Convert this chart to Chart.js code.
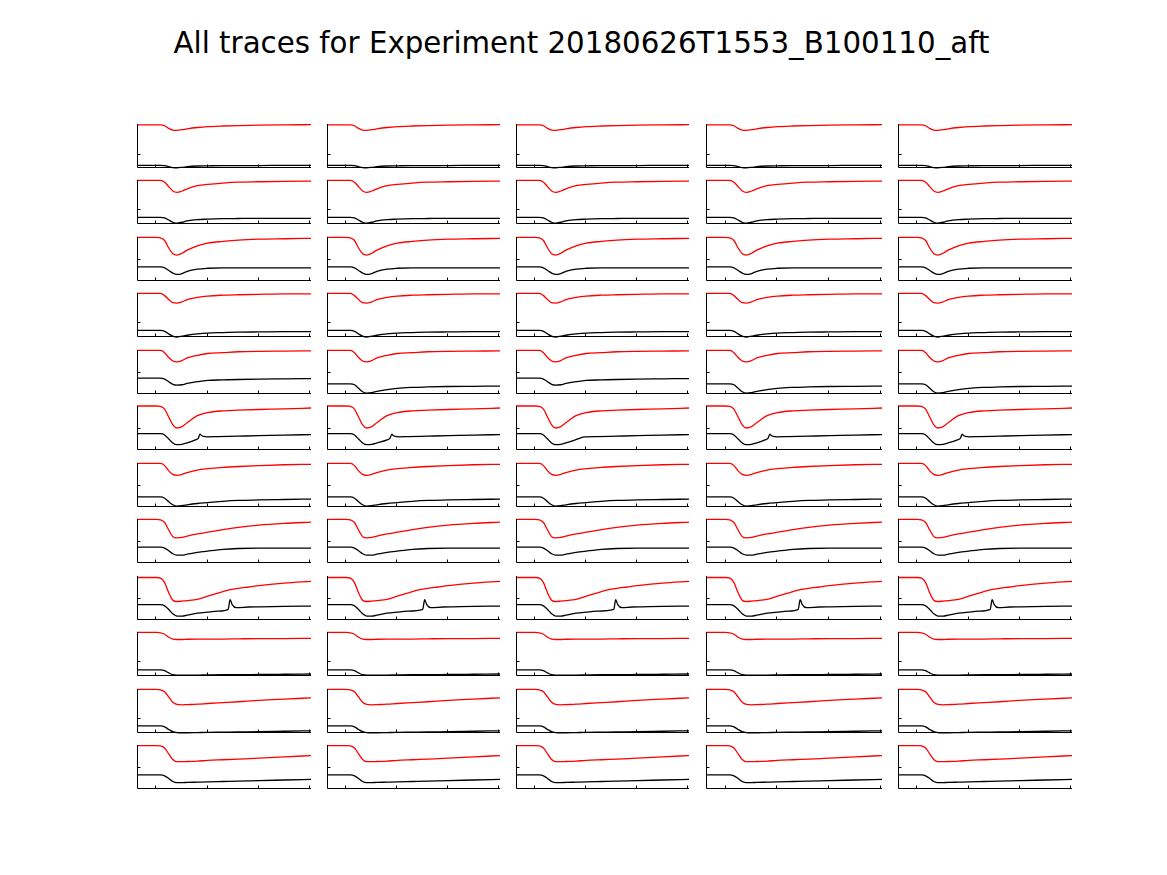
<!DOCTYPE html>
<html>
<head>
<meta charset="utf-8">
<script src="https://cdn.jsdelivr.net/npm/chart.js@4"></script>
<style>
  html, body { margin: 0; padding: 0; background: #fff; }
  #page { position: relative; width: 1167px; height: 875px; overflow: hidden; }
  #title { position: absolute; left: 0; width: 1163px; top: 26px; text-align: center;
           font-family: "DejaVu Sans", sans-serif; font-size: 29.3px; color: #000; }
  canvas { position: absolute; }
</style>
</head>
<body>
<div id="page">
  <div id="title">All traces for Experiment 20180626T1553_B100110_aft</div>
</div>
<script>
// time samples (shared by most traces), and the x tick positions
const T = [-19, 0, 4, 8, 12, 16, 20, 25, 30, 40, 50, 65, 80, 100, 125, 151]
const X_TICKS = [0, 50, 100, 150]

// red / black traces per row, values on T (0 = bottom, 100 = top of each panel)
const red1 = [98, 98, 98, 96, 90, 86, 85.5, 87, 89, 92, 94, 95.5, 96.5, 97.5, 98, 98.4]
const black1 = [6, 6, 6, 5.5, 3, 1, 0.5, 1.5, 3, 4.5, 5, 5.5, 5.5, 5.5, 6, 6]
const red2 = [99, 99, 99, 95, 85, 75, 72, 75, 80, 87, 90, 93, 95, 96, 97, 97.5]
const black2 = [15, 15, 15, 14, 9, 4, 2, 4, 7, 10, 11, 12, 12.5, 13, 13, 13]
const red3 = [99, 99, 98, 92, 75, 62, 59, 63, 70, 80, 86, 90, 93, 95, 96, 97]
const black3 = [32, 32, 32, 30, 24, 18, 15, 17, 22, 27, 29, 30, 30, 30, 30, 30]
const red4 = [99, 99, 99, 94, 85, 78, 77, 80, 85, 90, 93, 95, 96, 97, 98, 98]
const black4 = [15, 15, 15, 13, 7, 2, 0, 2, 4, 7, 9, 10, 11, 11.5, 12, 12]
const red5 = [99, 99, 99, 94, 83, 75, 73, 76, 82, 88, 92, 94, 96, 97, 97.5, 98]
const black5 = [36, 36, 36, 34, 28, 22, 20, 21, 24, 28, 31, 32, 33, 34, 34.5, 35]
const black5b = [23, 23, 23, 21, 13, 5, 2, 3, 6, 10, 13, 15, 16, 17, 17.5, 18]
const red6 = [100, 100, 99, 93, 75, 57, 50, 53, 62, 78, 85, 89, 90.5, 92, 93.5, 95.5]
const red7 = [99, 99, 99, 94, 82, 74, 72, 74, 78, 84, 87, 90, 92, 94, 96, 97]
const black7 = [23, 23, 23, 20, 12, 5, 2, 3, 5, 8, 10, 13, 15, 16, 17, 18]
const red8 = [99, 99, 98, 92, 75, 60, 57, 58, 61, 66, 70, 76, 81, 86, 90, 93]
const black8 = [36, 36, 36, 34, 28, 21, 18, 18, 20, 24, 27, 31, 33, 34, 34, 34]
const red10 = [99, 99, 98, 95, 88, 84, 83, 83, 83.5, 84, 84, 84, 84.5, 85, 85, 85.5]
const black10 = [14, 14, 14, 12, 7, 3, 2, 2, 2, 2, 2.5, 3, 3, 3.5, 4, 4.5]
const red11 = [99, 99, 98, 94, 82, 70, 65, 64, 64.5, 65.5, 67, 69, 71, 74, 77, 80]
const black11 = [16, 16, 16, 14, 8, 3, 1, 0.5, 0.5, 1, 1.5, 2, 2.5, 3, 4, 5]
const red12 = [98.5, 98.5, 98, 93, 80, 67, 62, 62, 62.5, 63.5, 65, 66.5, 68, 70, 73, 76]
const black12 = [32, 32, 32, 30, 24, 17, 14.5, 14.5, 15, 15.5, 16, 17, 18, 19, 20.5, 22]

// row 6: black trace with a small spike, slightly different time in each column
const t6a = [-19, 0, 4, 8, 12, 16, 20, 25, 30, 38, 41, 42.5, 44, 46, 50, 60, 80, 100, 125, 151]
const t6b = [-19, 0, 4, 8, 12, 16, 20, 25, 30, 40, 43, 44.7, 46, 48, 52, 60, 80, 100, 125, 151]
const t6d = [-19, 0, 4, 8, 12, 16, 20, 25, 30, 38, 41, 42.7, 44, 46, 50, 60, 80, 100, 125, 151]
const t6e = [-19, 0, 4, 8, 12, 16, 20, 25, 30, 39, 42, 43.7, 45, 47, 51, 60, 80, 100, 125, 151]
const black6 = [37, 37, 37, 34, 25, 16, 12, 13, 16, 23, 27, 36, 33, 31, 30, 30.5, 31.5, 32.5, 34, 35]
const t6c = [-19, 0, 4, 8, 12, 16, 20, 25, 30, 38, 44, 48, 52, 60, 80, 100, 125, 151]
const black6c = [37, 37, 37, 34, 25, 16, 12, 13, 16, 22, 27, 30, 30, 30.5, 31.5, 32.5, 34, 35]

// row 9: slow recovery and a late spike on the black trace
const t9red = [-19, 0, 4, 8, 12, 16, 20, 25, 30, 40, 50, 60, 70, 80, 90, 100, 125, 151]
const red9 = [96.6, 96.6, 95, 85, 62, 45, 42, 43, 44, 47, 54, 61, 68, 72, 75, 78, 84, 88]
const t9a = [-19, 0, 4, 8, 12, 16, 20, 25, 30, 40, 50, 60, 70, 72, 74, 78, 90, 100, 125, 151]
const t9b = [-19, 0, 4, 8, 12, 16, 20, 25, 30, 40, 50, 60, 75, 77, 79, 83, 95, 105, 125, 151]
const t9c = [-19, 0, 4, 8, 12, 16, 20, 25, 30, 40, 50, 60, 77, 79, 81, 85, 95, 105, 125, 151]
const t9e = [-19, 0, 4, 8, 12, 16, 20, 25, 30, 40, 50, 60, 71, 73, 75, 79, 90, 100, 125, 151]
const black9 = [35, 35, 35, 32, 24, 14, 9, 9, 11, 15.5, 18, 20, 24, 46, 35, 28, 29.5, 30, 31, 31.5]

// y tick value in each row
const yTicks = [32.5, 35, 50, 35, 50, 50, 50, 50, 50, 35, 35, 50]

// one entry per row: [times, values] for red, then for black, per column
const cells = [
  [[T, red1, T, black1], [T, red1, T, black1], [T, red1, T, black1], [T, red1, T, black1], [T, red1, T, black1]],
  [[T, red2, T, black2], [T, red2, T, black2], [T, red2, T, black2], [T, red2, T, black2], [T, red2, T, black2]],
  [[T, red3, T, black3], [T, red3, T, black3], [T, red3, T, black3], [T, red3, T, black3], [T, red3, T, black3]],
  [[T, red4, T, black4], [T, red4, T, black4], [T, red4, T, black4], [T, red4, T, black4], [T, red4, T, black4]],
  [[T, red5, T, black5], [T, red5, T, black5b], [T, red5, T, black5], [T, red5, T, black5b], [T, red5, T, black5b]],
  [[T, red6, t6a, black6], [T, red6, t6b, black6], [T, red6, t6c, black6c], [T, red6, t6d, black6], [T, red6, t6e, black6]],
  [[T, red7, T, black7], [T, red7, T, black7], [T, red7, T, black7], [T, red7, T, black7], [T, red7, T, black7]],
  [[T, red8, T, black8], [T, red8, T, black8], [T, red8, T, black8], [T, red8, T, black8], [T, red8, T, black8]],
  [[t9red, red9, t9a, black9], [t9red, red9, t9b, black9], [t9red, red9, t9c, black9], [t9red, red9, t9a, black9], [t9red, red9, t9e, black9]],
  [[T, red10, T, black10], [T, red10, T, black10], [T, red10, T, black10], [T, red10, T, black10], [T, red10, T, black10]],
  [[T, red11, T, black11], [T, red11, T, black11], [T, red11, T, black11], [T, red11, T, black11], [T, red11, T, black11]],
  [[T, red12, T, black12], [T, red12, T, black12], [T, red12, T, black12], [T, red12, T, black12], [T, red12, T, black12]]
]

// panel layout (pixels)
const PAD = 4
const COL_LEFT = [137, 327, 516, 706, 898]
const COL_W = [174, 173, 173, 176, 174]
const TOP0 = 124, ROW_STEP = 56.45, PANEL_H = 44

// left + bottom spines with inward ticks, like the original
const axesPlugin = {
  id: 'spines',
  afterDraw(chart, args, opts) {
    const { ctx, chartArea: a, scales } = chart
    const l = Math.round(a.left) + 0.5, b = Math.round(a.bottom) - 0.5
    ctx.save()
    ctx.strokeStyle = '#000'
    ctx.lineWidth = 1
    ctx.beginPath()
    ctx.moveTo(l, Math.round(a.top))
    ctx.lineTo(l, b)
    ctx.lineTo(Math.round(a.right), b)
    X_TICKS.forEach(v => {
      const px = Math.round(scales.x.getPixelForValue(v)) - 0.5
      ctx.moveTo(px, b)
      ctx.lineTo(px, b - 3)
    })
    const py = Math.round(scales.y.getPixelForValue(opts.yTick)) + 0.5
    ctx.moveTo(l, py)
    ctx.lineTo(l + 3, py)
    ctx.stroke()
    ctx.restore()
  }
}

const pts = (ts, vs) => ts.map((t, i) => ({ x: t, y: vs[i] }))
const page = document.getElementById('page')

cells.forEach((row, r) => {
  row.forEach((cell, c) => {
    const cv = document.createElement('canvas')
    const w = COL_W[c] + 2 * PAD, h = PANEL_H + 2 * PAD
    cv.width = w
    cv.height = h
    cv.style.width = w + 'px'
    cv.style.height = h + 'px'
    cv.style.left = (COL_LEFT[c] - PAD) + 'px'
    cv.style.top = Math.round(TOP0 + r * ROW_STEP - PAD) + 'px'
    page.appendChild(cv)

    new Chart(cv, {
      type: 'line',
      data: {
        datasets: [
          { data: pts(cell[0], cell[1]), borderColor: '#ff0000' },
          { data: pts(cell[2], cell[3]), borderColor: '#000000' }
        ]
      },
      options: {
        responsive: false,
        animation: false,
        layout: { padding: PAD },
        elements: {
          point: { radius: 0 },
          line: { borderWidth: 1.3, tension: 0.4, cubicInterpolationMode: 'monotone' }
        },
        datasets: { line: { clip: PAD } },
        plugins: {
          legend: { display: false },
          tooltip: { enabled: false },
          spines: { yTick: yTicks[r] }
        },
        scales: {
          x: { type: 'linear', min: -19, max: 151, display: false },
          y: { min: 0, max: 100, display: false }
        }
      },
      plugins: [axesPlugin]
    })
  })
})
</script>
</body>
</html>
